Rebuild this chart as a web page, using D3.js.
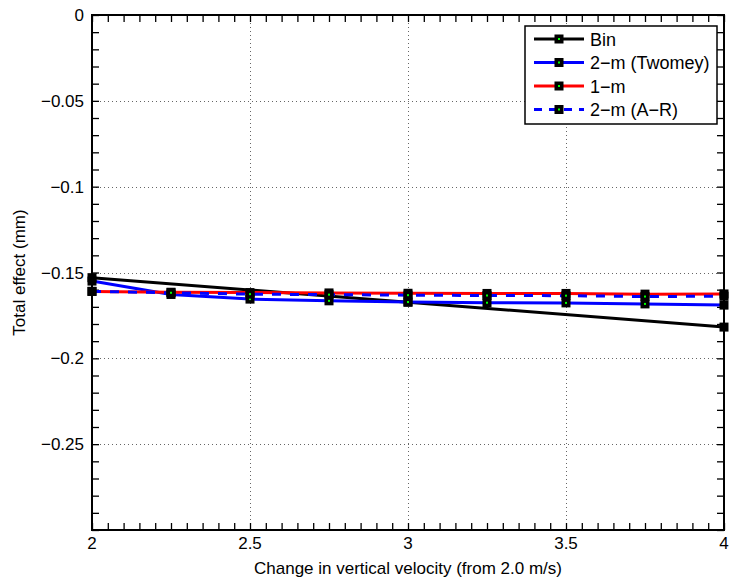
<!DOCTYPE html>
<html><head><meta charset="utf-8">
<script src="https://cdn.jsdelivr.net/npm/d3@7"></script>
<style>body{margin:0;background:#fff}svg{display:block}text{font-family:"Liberation Sans",Arial,Helvetica,sans-serif}</style>
</head><body><svg id="c" width="729" height="579"></svg>
<script>
// ---- data ----
const xValues = [2, 2.25, 2.5, 2.75, 3, 3.25, 3.5, 3.75, 4];
const binX = [2, 3, 4];
const binValues = [-0.153, -0.1673, -0.1818];
const twomeyValues = [-0.155, -0.1628, -0.1655, -0.1665, -0.1672, -0.1676, -0.1677, -0.1683, -0.169];
const oneMValues = [-0.161, -0.1615, -0.1617, -0.1619, -0.1621, -0.1622, -0.1622, -0.1626, -0.1625];
const arValues = [-0.161, -0.1618, -0.1626, -0.1629, -0.1632, -0.1634, -0.1635, -0.164, -0.1638];
const seriesNames = ["Bin", "2\u2212m (Twomey)", "1\u2212m", "2\u2212m (A\u2212R)"];
const xTicks = [2, 2.5, 3, 3.5, 4];
const xTickLabels = ["2", "2.5", "3", "3.5", "4"];
const yTicks = [0, -0.05, -0.1, -0.15, -0.2, -0.25];
const yTickLabels = ["0", "\u22120.05", "\u22120.1", "\u22120.15", "\u22120.2", "\u22120.25"];
const xLabel = "Change in vertical velocity (from 2.0 m/s)";
const yLabel = "Total effect (mm)";

// ---- layout ----
const L = 92, R = 724, T = 15, B = 530;
const svg = d3.select("#c");
const x = d3.scaleLinear().domain([2, 4]).range([L, R]);
const y = d3.scaleLinear().domain([-0.3, 0]).range([B, T]);
const FS = 17;
const LFS = 18;

svg.append("rect").attr("x", 0).attr("y", 0).attr("width", 729).attr("height", 579).attr("fill", "#fff");

// grid
const gx = xTicks.filter(d => d > 2 && d < 4);
const gy = yTicks.filter(d => d < 0);
svg.append("g").selectAll("line").data(gx).join("line")
  .attr("x1", d => Math.round(x(d)) + 0.5).attr("x2", d => Math.round(x(d)) + 0.5)
  .attr("y1", T).attr("y2", B)
  .attr("stroke", "#666").attr("stroke-width", 1).attr("stroke-dasharray", "1,3");
svg.append("g").selectAll("line").data(gy).join("line")
  .attr("y1", d => Math.round(y(d)) + 0.5).attr("y2", d => Math.round(y(d)) + 0.5)
  .attr("x1", L).attr("x2", R)
  .attr("stroke", "#666").attr("stroke-width", 1).attr("stroke-dasharray", "1,3");

// ticks (inward) on all sides
const xMinor = d3.range(0, 41).map(i => 2 + i * 0.05);
const yMinor = d3.range(0, 31).map(i => -i * 0.01);
function tickAxis(axisGen, values, tx, ty) {
  const g = svg.append("g").attr("transform", `translate(${tx},${ty})`)
    .call(axisGen.tickValues(values).tickSize(-7).tickSizeOuter(0).tickFormat(""));
  g.select(".domain").remove();
  g.selectAll(".tick line").attr("stroke", "#000").attr("stroke-width", 1.3);
  return g;
}
tickAxis(d3.axisBottom(x), xMinor, 0, B);
tickAxis(d3.axisTop(x), xMinor, 0, T);
tickAxis(d3.axisLeft(y), yMinor, L, 0);
tickAxis(d3.axisRight(y), yMinor, R, 0);

// tick labels
svg.append("g").selectAll("text").data(xTicks).join("text")
  .attr("x", d => x(d)).attr("y", B + 19).attr("text-anchor", "middle")
  .attr("font-size", FS).text((d, i) => xTickLabels[i]);
svg.append("g").selectAll("text").data(yTicks).join("text")
  .attr("x", L - 8).attr("y", d => y(d) + 6).attr("text-anchor", "end")
  .attr("font-size", FS).text((d, i) => yTickLabels[i]);

// axis labels
svg.append("text").attr("x", (L + R) / 2).attr("y", 574).attr("text-anchor", "middle")
  .attr("font-size", FS).text(xLabel);
svg.append("text").attr("transform", `translate(25,${(T + B) / 2}) rotate(-90)`)
  .attr("text-anchor", "middle").attr("font-size", FS).text(yLabel);

// series
const series = [
  { name: seriesNames[0], xs: binX, ys: binValues, color: "#000", dash: null },
  { name: seriesNames[1], xs: xValues, ys: twomeyValues, color: "#0000ff", dash: null },
  { name: seriesNames[2], xs: xValues, ys: oneMValues, color: "#ff0000", dash: null },
  { name: seriesNames[3], xs: xValues, ys: arValues, color: "#0000ff", dash: "9,9" }
];
const line = d3.line().x(d => x(d[0])).y(d => y(d[1]));
const plot = svg.append("g");
series.forEach(s => {
  const pts = s.xs.map((v, i) => [v, s.ys[i]]);
  plot.append("path").datum(pts).attr("d", line)
    .attr("fill", "none").attr("stroke", s.color).attr("stroke-width", 3)
    .attr("stroke-dasharray", s.dash);
});
function marker(g, cx, cy) {
  g.append("rect").attr("x", cx - 4.5).attr("y", cy - 4.5).attr("width", 9).attr("height", 9).attr("fill", "#000");
  g.append("rect").attr("x", cx - 1).attr("y", cy - 1).attr("width", 2).attr("height", 2).attr("fill", "#00ff00");
}
series.forEach(s => {
  s.xs.forEach((v, i) => marker(plot, x(v), y(s.ys[i])));
});

// box
svg.append("rect").attr("x", L).attr("y", T).attr("width", R - L).attr("height", B - T)
  .attr("fill", "none").attr("stroke", "#000").attr("stroke-width", 2);

// legend
const lg = svg.append("g");
lg.append("rect").attr("x", 525).attr("y", 26).attr("width", 192).attr("height", 98)
  .attr("fill", "#fff").attr("stroke", "#000").attr("stroke-width", 1.5);
series.forEach((s, i) => {
  const ly = 39 + i * 23.5;
  lg.append("line").attr("x1", 534).attr("x2", 584).attr("y1", ly).attr("y2", ly)
    .attr("stroke", s.color).attr("stroke-width", 3).attr("stroke-dasharray", s.dash ? "8,7" : null);
  marker(lg, 559, ly);
  lg.append("text").attr("x", 590).attr("y", ly + 6.5).attr("font-size", LFS).text(s.name);
});
</script></body></html>
